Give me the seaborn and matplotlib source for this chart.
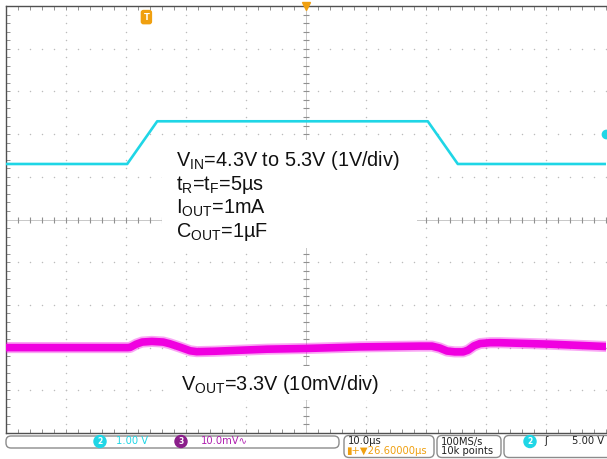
import numpy as np
import pandas as pd
import matplotlib
matplotlib.use("Agg")
import matplotlib.pyplot as plt
import seaborn as sns
from matplotlib.patches import FancyBboxPatch, Rectangle

# ---------------- data ----------------
# Channel 2: input voltage (V) vs time (us)
vin_time_us = [-50, -29.8, -24.8, 20.3, 25.3, 50]
vin_volts = [4.3, 4.3, 5.3, 5.3, 4.3, 4.3]

# Channel 3: output deviation from 3.3 V (mV) vs time (us)
vout_time_us = [-50, -29.7, -29.3, -28.3, -27.3, -25.7, -23.8, -22.7, -21.0, -19.3,
                -18.2, -15.2, -6.5, 0.0, 9.0, 19.0, 21.0, 22.3, 23.5, 24.8,
                26.2, 27.0, 28.0, 29.0, 30.7, 32.3, 40.7, 50.0]
vout_dev_mv = [0.0, 0.0, 0.05, 0.8, 1.3, 1.45, 1.3, 0.9, 0.1, -0.75,
               -0.95, -0.85, -0.37, -0.2, 0.16, 0.35, 0.35, -0.1, -0.8, -1.0,
               -1.0, -0.6, 0.4, 0.95, 1.15, 1.15, 0.8, 0.25]

ch2_scale_v = 1.0      # V/div
ch3_scale_mv = 10.0    # mV/div
ch_position_div = -3.0  # position of both channels
trig_level_v = 5.0
trig_time_us = -26.6

text_lines = ["V$_{\\mathregular{IN}}$=4.3V to 5.3V (1V/div)",
              "t$_{\\mathregular{R}}$=t$_{\\mathregular{F}}$=5µs",
              "I$_{\\mathregular{OUT}}$=1mA",
              "C$_{\\mathregular{OUT}}$=1µF"]
vout_label = "V$_{\\mathregular{OUT}}$=3.3V (10mV/div)"

# ---------------- figure ----------------
sns.set_style("white")
plt.rcParams['font.family'] = ['Liberation Sans', 'DejaVu Sans']
plt.rcParams['mathtext.fontset'] = 'custom'
plt.rcParams['mathtext.rm'] = 'Liberation Sans'
plt.rcParams['mathtext.it'] = 'Liberation Sans'

W, H = 607, 459
fig = plt.figure(figsize=(W / 100, H / 100), dpi=100)
fig.patch.set_facecolor("white")
ax = fig.add_axes([6 / W, 1 - 433 / H, 600 / W, 427 / H])
ax.set_xlim(-50, 50)
ax.set_ylim(-5, 5)
ax.set_facecolor("white")

CYAN = "#1fd6e6"
MAGENTA = "#f000e0"
ORANGE = "#f0a010"
GRID = "#bcbcbc"

# dotted graticule
gx = np.arange(-40, 41, 10)
gy = np.arange(-4, 4.01, 1)
hx = np.arange(-50, 50.01, 2)
vy = np.arange(-5, 5.01, 0.2)
for y in gy:
    if abs(y) < 1e-9:
        continue
    ax.scatter(hx, np.full_like(hx, y, dtype=float), s=1.1, color=GRID, linewidths=0, zorder=1)
for x in gx:
    if x == 0:
        continue
    ax.scatter(np.full_like(vy, x, dtype=float), vy, s=1.1, color=GRID, linewidths=0, zorder=1)

# centre crosshair with ticks
ax.axvline(0, color="#c8c8c8", lw=0.7, zorder=1)
ax.axhline(0, color="#c8c8c8", lw=0.7, zorder=1)
ax.scatter(np.zeros_like(vy), vy, marker="_", s=14, color="#909090", linewidths=0.8, zorder=1)
ax.scatter(hx, np.zeros_like(hx), marker="|", s=14, color="#909090", linewidths=0.8, zorder=1)

# white boxes behind annotations
ax.add_patch(Rectangle((162 / 100, (H - 248) / 100), 255 / 100, 108 / 100,
                       transform=fig.dpi_scale_trans, facecolor="white", edgecolor="none", zorder=2))
ax.add_patch(Rectangle((170 / 100, (H - 400) / 100), 220 / 100, 34 / 100,
                       transform=fig.dpi_scale_trans, facecolor="white", edgecolor="none", zorder=2))

# traces
df_in = pd.DataFrame({"t": vin_time_us,
                      "div": [v / ch2_scale_v + ch_position_div for v in vin_volts]})
df_out = pd.DataFrame({"t": vout_time_us,
                       "div": [d / ch3_scale_mv + ch_position_div for d in vout_dev_mv]})
sns.lineplot(data=df_out, x="t", y="div", ax=ax, color=MAGENTA, lw=8.0, alpha=0.35,
             sort=False, solid_joinstyle="round", zorder=4)
sns.lineplot(data=df_out, x="t", y="div", ax=ax, color=MAGENTA, lw=5.5, sort=False,
             solid_joinstyle="round", zorder=4)
sns.lineplot(data=df_in, x="t", y="div", ax=ax, color=CYAN, lw=1.9, sort=False, zorder=5)
ax.set_xlabel("")
ax.set_ylabel("")

# ticks on frame
ax.set_xticks(hx)
ax.set_yticks(vy)
ax.set_xticklabels([])
ax.set_yticklabels([])
ax.tick_params(direction="in", length=3, width=0.6, color="#808080",
               top=True, bottom=True, left=True, right=False)
for side in ["top", "bottom", "left"]:
    ax.spines[side].set_color("#505050")
    ax.spines[side].set_linewidth(1.0)
ax.spines["right"].set_visible(False)

# markers
ax.plot([0], [5], marker="v", color=ORANGE, markersize=6, clip_on=False, zorder=6)
ax.text(trig_time_us, 4.74, "T", color="white", fontsize=6, fontweight="bold",
        ha="center", va="center", family="DejaVu Sans", zorder=6,
        bbox=dict(boxstyle="round,pad=0.25", fc=ORANGE, ec=ORANGE))
ax.plot([50], [trig_level_v / ch2_scale_v + ch_position_div], marker="o", color=CYAN,
        markersize=6, clip_on=False, zorder=6)

# annotations
def fx(px):
    return px / W

def fy(py):
    return 1 - py / H

for i, line in enumerate(text_lines):
    fig.text(fx(176), fy(166.5 + 23.4 * i), line, fontsize=14.3, color="#111111",
             va="baseline", ha="left")
fig.text(fx(181), fy(390), vout_label, fontsize=14.3, color="#111111",
         va="baseline", ha="left")

# status bar
def rbox(x0, y0, x1, y1):
    p = FancyBboxPatch((x0 / 100, (H - y1) / 100), (x1 - x0) / 100, (y1 - y0) / 100,
                       boxstyle="round,pad=0,rounding_size=0.05",
                       transform=fig.dpi_scale_trans, facecolor="white",
                       edgecolor="#8c8c8c", lw=1.0, clip_on=False)
    fig.patches.append(p)

rbox(6, 436, 339, 448)
rbox(344, 435.5, 434, 457.5)
rbox(437, 435.5, 501, 457.5)
rbox(504, 435.5, 640, 457.5)

sb = dict(family="DejaVu Sans", fontsize=7.2, va="center", ha="left")
def badge(px, py, num, col):
    fig.text(fx(px), fy(py), num, color="white", fontsize=5.5, family="DejaVu Sans",
             ha="center", va="center", fontweight="bold",
             bbox=dict(boxstyle="circle,pad=0.2", fc=col, ec=col))

badge(100, 441.5, "2", CYAN)
fig.text(fx(116), fy(441.5), "1.00 V", color=CYAN, **sb)
badge(181, 441.5, "3", "#8a1e8a")
fig.text(fx(201), fy(441.5), "10.0mV\u223f", color="#b020b0", **sb)
fig.text(fx(348), fy(441.5), "10.0µs", color="#222222", **sb)
fig.text(fx(346), fy(451.5), "\u25ae+\u25bc26.60000µs", color=ORANGE, **sb)
fig.text(fx(441), fy(441.5), "100MS/s", color="#222222", **sb)
fig.text(fx(441), fy(451.5), "10k points", color="#222222", **sb)
badge(530, 441.5, "2", CYAN)
fig.text(fx(544), fy(441.5), "\u0283", color="#222222", **sb)
fig.text(fx(572), fy(441.5), "5.00 V", color="#222222", **sb)

fig.savefig("out.png", dpi=100, facecolor="white")
